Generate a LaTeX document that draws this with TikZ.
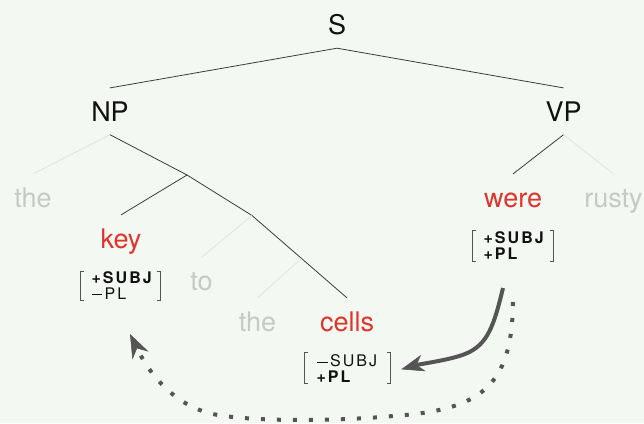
\documentclass[tikz,border=0pt]{standalone}
\usepackage{fontspec}
\setmainfont{TeX Gyre Heros}
\newfontfamily\featfont[LetterSpace=13]{TeX Gyre Heros}
\usetikzlibrary{arrows.meta,calc}
\definecolor{bg}{RGB}{244,248,243}
\definecolor{ink}{RGB}{17,17,17}
\definecolor{faintword}{RGB}{198,201,198}
\definecolor{hot}{RGB}{222,52,44}
\definecolor{treeline}{RGB}{60,60,60}
\definecolor{faintline}{RGB}{224,229,224}
\definecolor{arrowgray}{RGB}{85,85,85}
\definecolor{brkgray}{RGB}{85,85,85}
\newcommand\fbrk[1]{%
  \draw[brk] ([xshift=3.5pt]#1.north west) -- (#1.north west) -- (#1.south west) -- ([xshift=3.5pt]#1.south west);
  \draw[brk] ([xshift=-3.5pt]#1.north east) -- (#1.north east) -- (#1.south east) -- ([xshift=-3.5pt]#1.south east);}
\newcommand\fminus{\rule[4.5pt]{10.5pt}{0.8pt}\hspace{2.6pt}}
\begin{document}
\begin{tikzpicture}[x=1pt,y=-1pt,
  word/.style={font=\fontsize{27}{30}\selectfont, text height=19.4pt, text depth=0pt,
    inner xsep=0pt, inner ysep=13.5pt, anchor=base},
  cat/.style={word, text=ink},
  lit/.style={word, text=faintword},
  head/.style={word, text=hot},
  frame/.style={inner sep=0pt, minimum width=#1},
  feat/.style={font=\featfont\fontsize{16}{18}\selectfont, text=ink, inner sep=0pt, anchor=base west},
  brk/.style={draw=brkgray, line width=0.9pt, line cap=butt, line join=miter},
  tree/.style={draw=treeline, line width=0.8pt},
  ghost/.style={draw=faintline, line width=0.8pt},
  agree/.style={draw=arrowgray, line width=4pt, line cap=butt,
    -{Stealth[length=23pt, width=17pt, inset=7pt, line width=0.6pt]}},
  agreedot/.style={draw=arrowgray, line width=4pt, line cap=butt, dash pattern=on 4pt off 12pt,
    -{Stealth[length=24pt, width=18pt, inset=8pt, line width=0.6pt]}}
]
\fill[bg] (0,0) rectangle (644,423);
\useasboundingbox (0,0) rectangle (644,423);

% words
\node[cat] (S) at (337,34.5) {S};
\node[cat] (NP) at (110,121) {NP};
\node[cat] (VP) at (563.5,121) {VP};
\node[lit] (the1) at (33,207) {the};
\node[head] (key) at (121,248) {key};
\node[lit] (to) at (201.5,290.5) {to};
\node[lit] (the2) at (257.5,331) {the};
\node[head] (cells) at (347,331) {cells};
\node[head] (were) at (513,207) {were};
\node[lit] (rusty) at (613.5,207) {rusty};

% hidden branching points
\coordinate (nbar) at (187,175);
\coordinate (pp) at (252,215.5);
\coordinate (np2) at ($(pp)!0.52!(cells.north)$);

% tree
\draw[tree] (S.south) -- (NP.north);
\draw[tree] (S.south) -- (VP.north);
\draw[ghost] (NP.south) -- (the1.north);
\draw[tree] (NP.south) -- (nbar);
\draw[tree] (nbar) -- (key.north);
\draw[tree] (nbar) -- (pp);
\draw[ghost] (pp) -- (to.north);
\draw[tree] (pp) -- (np2);
\draw[ghost] (np2) -- (the2.north);
\draw[tree] (np2) -- (cells.north);
\draw[tree] (VP.south) -- (were.north);
\draw[ghost] (VP.south) -- (rusty.north);

% feature matrices
\node[frame=79pt, minimum height=28.5pt] (kf) at (120.5,286) {};
\node[feat] (kf1) at ([shift={(10.5,12)}]kf.north west) {\bfseries +SUBJ};
\node[feat] (kf2) at ([shift={(10.5,28)}]kf.north west) {\fminus PL};
\fbrk{kf}

\node[frame=80pt, minimum height=30pt] (wf) at (513,246) {};
\node[feat] (wf1) at ([shift={(10.5,13)}]wf.north west) {\bfseries +SUBJ};
\node[feat] (wf2) at ([shift={(10.5,29)}]wf.north west) {\bfseries +PL};
\fbrk{wf}

\node[frame=85pt, minimum height=30.5pt] (cf) at (347.5,368.3) {};
\node[feat] (cf1) at ([shift={(12,14)}]cf.north west) {\fminus SUBJ};
\node[feat] (cf2) at ([shift={(11.5,30)}]cf.north west) {\bfseries +PL};
\fbrk{cf}

% agreement arrows
\coordinate (a1s) at (503,288);
\coordinate (a1e) at ([shift={(11,1)}]cf.east);
\draw[agree] (a1s) .. controls (494,325) and (488,345) .. (465,354)
  .. controls (450,360) and (420,364) .. (a1e);

\coordinate (d1s) at (513,302);
\coordinate (d1e) at (130,334);
\draw[agreedot] (d1s) .. controls (512,388) and (480,410) .. (393,416)
  .. controls (340,421) and (260,422) .. (218,415)
  .. controls (176,408) and (150,375) .. (d1e);
\end{tikzpicture}
\end{document}
